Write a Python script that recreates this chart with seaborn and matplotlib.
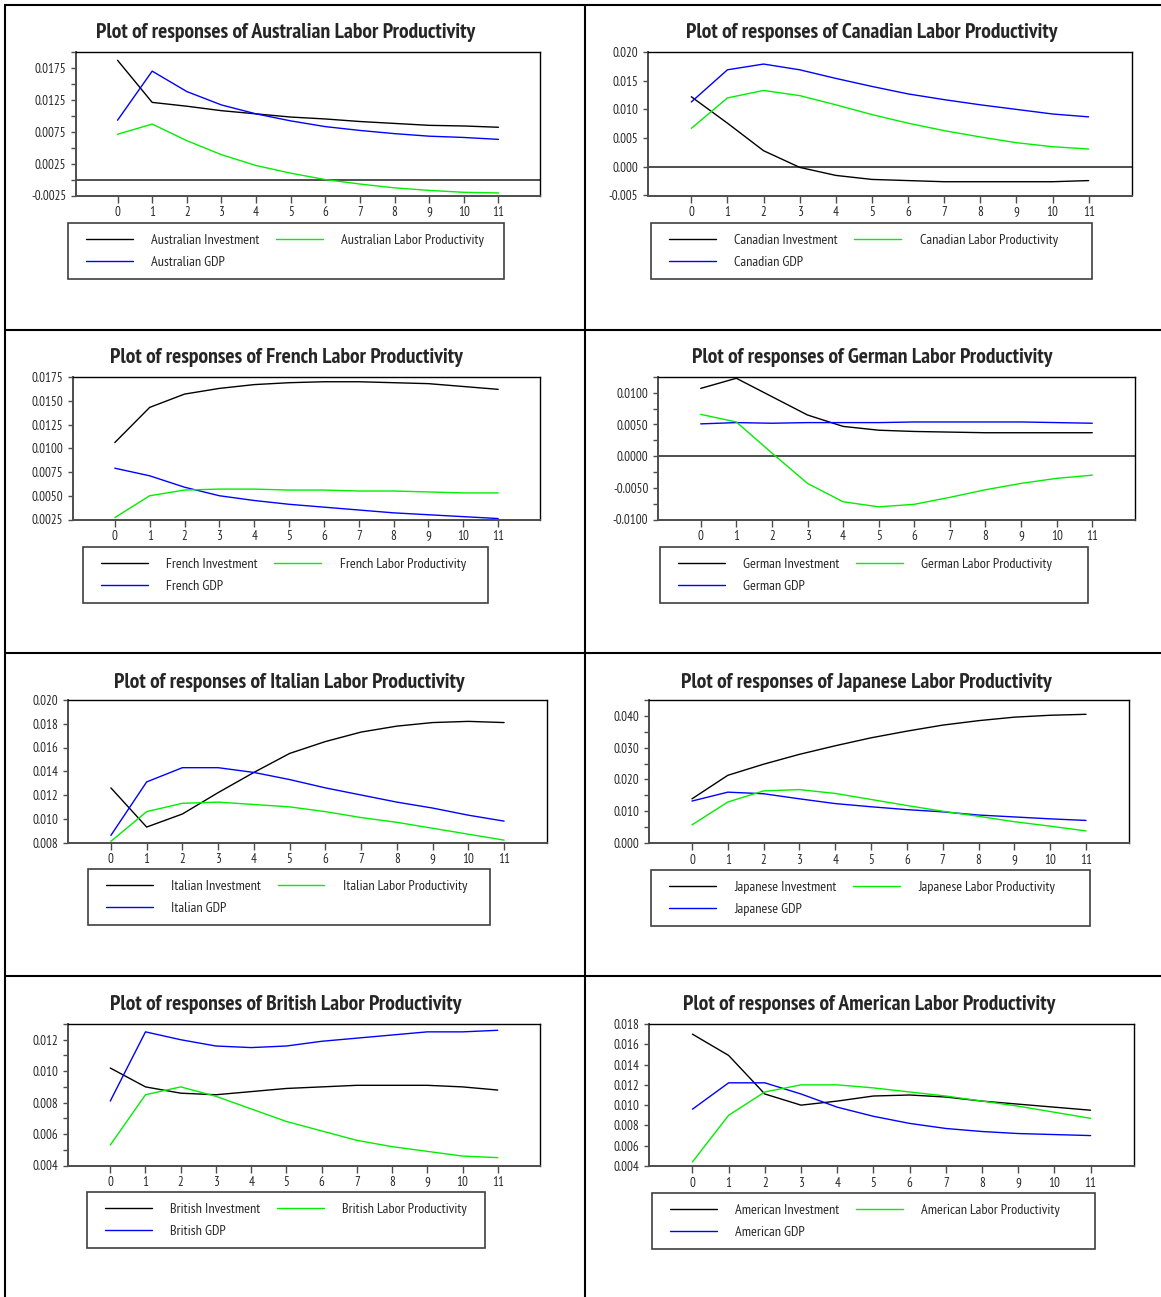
import numpy as np
import pandas as pd
import matplotlib
matplotlib.use("Agg")
import matplotlib.pyplot as plt
import seaborn as sns
from matplotlib.patches import Rectangle
from matplotlib.lines import Line2D
from matplotlib.ticker import FixedLocator, FormatStrFormatter

# impulse response values
steps = list(range(12))

aus_inv = [0.0187, 0.0121, 0.0115, 0.0108, 0.0103, 0.0098, 0.0095, 0.0091, 0.0088, 0.0085, 0.0084, 0.0082]
aus_gdp = [0.0093, 0.0170, 0.0138, 0.0117, 0.0103, 0.0092, 0.0083, 0.0077, 0.0072, 0.0068, 0.0066, 0.0063]
aus_lp = [0.0071, 0.0087, 0.0061, 0.0039, 0.0022, 0.0010, 0.0000, -0.0007, -0.0013, -0.0017, -0.0020, -0.0021]

can_inv = [0.0122, 0.0076, 0.0028, -0.0001, -0.0015, -0.0022, -0.0024, -0.0026, -0.0026, -0.0026, -0.0026, -0.0024]
can_gdp = [0.0113, 0.0169, 0.0179, 0.0169, 0.0154, 0.0140, 0.0127, 0.0117, 0.0108, 0.0100, 0.0092, 0.0087]
can_lp = [0.0067, 0.0120, 0.0133, 0.0124, 0.0108, 0.0091, 0.0076, 0.0063, 0.0052, 0.0042, 0.0035, 0.0031]

fre_inv = [0.0106, 0.0143, 0.0157, 0.0163, 0.0167, 0.0169, 0.0170, 0.0170, 0.0169, 0.0168, 0.0165, 0.0162]
fre_gdp = [0.0079, 0.0071, 0.0059, 0.0050, 0.0045, 0.0041, 0.0038, 0.0035, 0.0032, 0.0030, 0.0028, 0.0026]
fre_lp = [0.0027, 0.0050, 0.0056, 0.0057, 0.0057, 0.0056, 0.0056, 0.0055, 0.0055, 0.0054, 0.0053, 0.0053]

ger_inv = [0.0107, 0.0123, 0.0094, 0.0065, 0.0047, 0.0041, 0.0039, 0.0038, 0.0037, 0.0037, 0.0037, 0.0037]
ger_gdp = [0.0051, 0.0053, 0.0052, 0.0053, 0.0053, 0.0053, 0.0054, 0.0054, 0.0054, 0.0054, 0.0053, 0.0052]
ger_lp = [0.0066, 0.0054, 0.0005, -0.0043, -0.0072, -0.0080, -0.0076, -0.0065, -0.0053, -0.0043, -0.0035, -0.0030]

ita_inv = [0.0126, 0.0093, 0.0104, 0.0122, 0.0139, 0.0155, 0.0165, 0.0173, 0.0178, 0.0181, 0.0182, 0.0181]
ita_gdp = [0.0086, 0.0131, 0.0143, 0.0143, 0.0139, 0.0133, 0.0126, 0.0120, 0.0114, 0.0109, 0.0103, 0.0098]
ita_lp = [0.0081, 0.0106, 0.0113, 0.0114, 0.0112, 0.0110, 0.0106, 0.0101, 0.0097, 0.0092, 0.0087, 0.0082]

jap_inv = [0.0139, 0.0213, 0.0248, 0.0279, 0.0306, 0.0331, 0.0352, 0.0371, 0.0385, 0.0396, 0.0402, 0.0405]
jap_gdp = [0.0132, 0.0160, 0.0155, 0.0139, 0.0124, 0.0114, 0.0105, 0.0098, 0.0088, 0.0082, 0.0076, 0.0071]
jap_lp = [0.0057, 0.0129, 0.0164, 0.0168, 0.0156, 0.0137, 0.0118, 0.0100, 0.0084, 0.0067, 0.0053, 0.0038]

bri_inv = [0.0102, 0.0090, 0.0086, 0.0085, 0.0087, 0.0089, 0.0090, 0.0091, 0.0091, 0.0091, 0.0090, 0.0088]
bri_gdp = [0.0081, 0.0125, 0.0120, 0.0116, 0.0115, 0.0116, 0.0119, 0.0121, 0.0123, 0.0125, 0.0125, 0.0126]
bri_lp = [0.0053, 0.0085, 0.0090, 0.0084, 0.0076, 0.0068, 0.0062, 0.0056, 0.0052, 0.0049, 0.0046, 0.0045]

ame_inv = [0.0170, 0.0149, 0.0111, 0.0100, 0.0104, 0.0109, 0.0110, 0.0108, 0.0104, 0.0101, 0.0098, 0.0095]
ame_gdp = [0.0096, 0.0122, 0.0122, 0.0111, 0.0098, 0.0089, 0.0082, 0.0077, 0.0074, 0.0072, 0.0071, 0.0070]
ame_lp = [0.0044, 0.0090, 0.0113, 0.0120, 0.0120, 0.0117, 0.0113, 0.0109, 0.0104, 0.0099, 0.0093, 0.0087]

sns.set_style("ticks")
plt.rcParams['font.family'] = ['PT Sans Narrow', 'Roboto Condensed', 'DejaVu Sans']

W, H = 1161, 1297
fig = plt.figure(figsize=(W / 100, H / 100), dpi=100)
renderer = fig.canvas.get_renderer()


def fit_size(text, target_px, weight="normal"):
    # font size that makes a sample string as wide as in the original
    t = fig.text(0, 0, text, fontsize=10, fontweight=weight)
    w = t.get_window_extent(renderer).width
    t.remove()
    return 10 * target_px / w


title_fs = fit_size("Plot of responses of Australian Labor Productivity", 382, "bold")
legend_fs = fit_size("Australian Investment", 108)
tick_fs = fit_size("0.0175", 31.5)


def fig_rect(x0, x1, y0, y1):
    return [x0 / W, 1 - y1 / H, (x1 - x0) / W, (y1 - y0) / H]


# country, series, ylim, major ticks, minor ticks, label format, zero line,
# axes box (px), legend box (px), title centre (px)
panels = [
    ("Australian", (aus_inv, aus_gdp, aus_lp), (-0.0025, 0.020),
     [-0.0025, 0.0025, 0.0075, 0.0125, 0.0175], [0.0, 0.005, 0.010, 0.015, 0.020], "%.4f", True,
     (76, 540, 52, 195.5), (68, 504, 223, 279), (286, 33)),
    ("Canadian", (can_inv, can_gdp, can_lp), (-0.005, 0.020),
     [-0.005, 0.0, 0.005, 0.010, 0.015, 0.020], [], "%.3f", True,
     (648, 1132, 52, 195.5), (651, 1092, 223, 279), (872, 33)),
    ("French", (fre_inv, fre_gdp, fre_lp), (0.0025, 0.0175),
     [0.0025, 0.005, 0.0075, 0.010, 0.0125, 0.015, 0.0175], [], "%.4f", False,
     (73, 540, 377, 519.5), (83, 488, 547, 603), (286, 358)),
    ("German", (ger_inv, ger_gdp, ger_lp), (-0.010, 0.0125),
     [-0.010, -0.005, 0.0, 0.005, 0.010], [-0.0075, -0.0025, 0.0025, 0.0075, 0.0125], "%.4f", True,
     (658, 1135, 377, 519.5), (660, 1088, 547, 603), (872, 358)),
    ("Italian", (ita_inv, ita_gdp, ita_lp), (0.008, 0.020),
     [0.008, 0.010, 0.012, 0.014, 0.016, 0.018, 0.020], [], "%.3f", False,
     (68, 547, 700, 842.5), (88, 490, 869, 924.5), (289, 682)),
    ("Japanese", (jap_inv, jap_gdp, jap_lp), (0.0, 0.045),
     [0.0, 0.010, 0.020, 0.030, 0.040], [0.005, 0.015, 0.025, 0.035, 0.045], "%.3f", False,
     (649, 1129, 700, 843), (651, 1090, 870, 925.5), (866, 682)),
    ("British", (bri_inv, bri_gdp, bri_lp), (0.004, 0.013),
     [0.004, 0.006, 0.008, 0.010, 0.012], [0.005, 0.007, 0.009, 0.011, 0.013], "%.3f", False,
     (68, 540, 1024, 1165.5), (87, 485, 1192, 1248), (286, 1005)),
    ("American", (ame_inv, ame_gdp, ame_lp), (0.004, 0.018),
     [0.004, 0.006, 0.008, 0.010, 0.012, 0.014, 0.016, 0.018], [], "%.3f", False,
     (649, 1134, 1024, 1166), (652, 1095, 1193, 1249), (869, 1005)),
]

colors = ["black", "#0000ff", "#00ee00"]

for (country, series, ylim, major, minor, fmt, zero,
     abox, lbox, tpos) in panels:
    inv, gdp, lp = series
    labels = [f"{country} Investment", f"{country} GDP", f"{country} Labor Productivity"]
    df = pd.DataFrame({
        "step": steps * 3,
        "value": inv + gdp + lp,
        "series": [labels[0]] * 12 + [labels[1]] * 12 + [labels[2]] * 12,
    })

    ax = fig.add_axes(fig_rect(*abox))
    sns.lineplot(data=df, x="step", y="value", hue="series", hue_order=labels,
                 palette=colors, linewidth=1.0, ax=ax)
    handles, labs = ax.get_legend_handles_labels()
    ax.get_legend().remove()

    if zero:
        ax.axhline(0, color="0.25", linewidth=1.3, zorder=1)

    ax.set_xlim(-1.2, 12.2)
    ax.set_ylim(*ylim)
    ax.set_xticks(steps)
    ax.yaxis.set_major_locator(FixedLocator(major))
    ax.yaxis.set_minor_locator(FixedLocator(minor))
    ax.yaxis.set_major_formatter(FormatStrFormatter(fmt))
    ax.set_xlabel("")
    ax.set_ylabel("")
    ax.tick_params(axis="x", length=5, width=1.0, pad=2.8, labelsize=tick_fs, color="0.3")
    ax.tick_params(axis="y", which="both", length=3.5, width=1.0, pad=3.5, labelsize=tick_fs, color="0.3")
    for side in ["top", "right"]:
        ax.spines[side].set_color("black")
        ax.spines[side].set_linewidth(1.0)
    for side in ["left", "bottom"]:
        ax.spines[side].set_color("0.3")
        ax.spines[side].set_linewidth(1.4)

    # title centred over the panel
    fig.text(tpos[0] / W, 1 - tpos[1] / H, f"Plot of responses of {country} Labor Productivity",
             ha="center", va="center", fontsize=title_fs, fontweight="bold")

    # legend box below the plot
    lx0, lx1, ly0, ly1 = lbox
    fig.add_artist(Rectangle((lx0 / W, 1 - ly1 / H), (lx1 - lx0) / W, (ly1 - ly0) / H,
                             transform=fig.transFigure, fill=False,
                             edgecolor="0.25", linewidth=1.2))
    fig.legend(handles, labs, loc="upper left",
               bbox_to_anchor=((lx0 + 18) / W, 1 - (ly0 + 11) / H),
               ncol=2, frameon=False, fontsize=legend_fs, handlelength=3.3,
               handletextpad=1.3, columnspacing=1.15, labelspacing=0.62,
               borderpad=0, borderaxespad=0)

# table grid lines between the panels
lw_grid = 1.5
for x in [5, 585]:
    fig.add_artist(Line2D([x / W, x / W], [0, 1 - 5 / H], transform=fig.transFigure,
                          color="black", linewidth=lw_grid))
for y in [5, 330, 653, 976]:
    fig.add_artist(Line2D([5 / W, 1], [1 - y / H, 1 - y / H], transform=fig.transFigure,
                          color="black", linewidth=lw_grid))

fig.savefig("out.png", dpi=100)
